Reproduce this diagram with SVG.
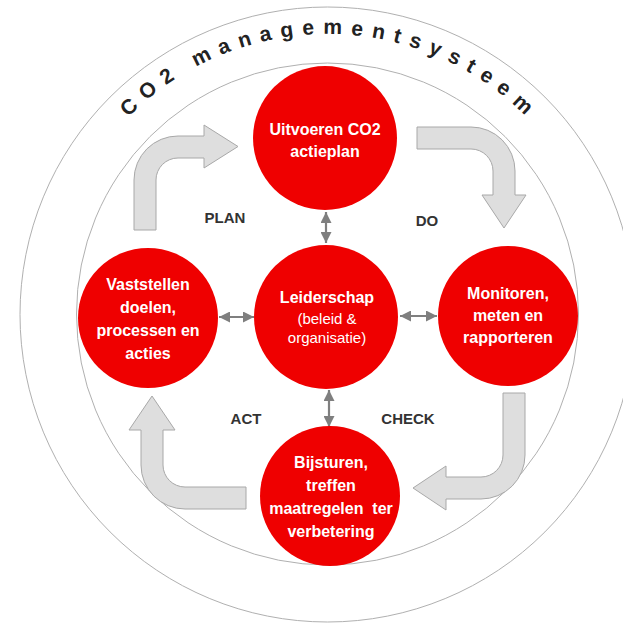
<svg xmlns="http://www.w3.org/2000/svg" width="623" height="623" viewBox="0 0 623 623">
<style>
.ring{fill:none;stroke:#b0b0b0;stroke-width:1}
.node{fill:#ef0000}
.nt{font-family:"Liberation Sans",Arial,sans-serif;font-weight:bold;font-size:16px;fill:#ffffff;text-anchor:middle}
.nr{font-family:"Liberation Sans",Arial,sans-serif;font-weight:normal;font-size:15px;fill:#ffffff;text-anchor:middle}
.lbl{font-family:"Liberation Sans",Arial,sans-serif;font-weight:bold;font-size:15px;fill:#333333;text-anchor:middle}
.arc{font-family:"Liberation Sans",Arial,sans-serif;font-weight:bold;font-size:21px;fill:#222222}
.big{fill:#dedede;stroke:#a8a8a8;stroke-width:1}
.dbl{stroke:#7f7f7f;stroke-width:2.2;fill:none;marker-start:url(#ah);marker-end:url(#ah)}
</style>
<defs>
<marker id="ah" markerUnits="userSpaceOnUse" markerWidth="11" markerHeight="11" refX="10" refY="5" orient="auto-start-reverse" viewBox="0 0 10 10">
<path d="M0,0 L10,5 L0,10 Z" fill="#7f7f7f"/>
</marker>
<path id="arcpath" d="M47.5,314 A280,280 0 0 1 607.5,314"/>
</defs>
<rect width="623" height="623" fill="#ffffff"/>
<g id="rings">
<circle class="ring" cx="327.5" cy="314.5" r="307.5"/>
<circle class="ring" cx="327.5" cy="314" r="251"/>
<text class="arc"><textPath href="#arcpath" startOffset="218"><tspan dx="0 8.9 8.9 8.9 8.9 8.9 8.9 8.9 8.9 8.9 8.9 8.9 8.9 8.9 8.9 8.9 8.9 8.9 8.9 8.9 8.9">CO2 managementsysteem</tspan></textPath></text>
</g>
<g id="connectors">
<path class="big" d="M134,230 V180 A44,44 0 0 1 178,136 H204 V125 L238,146.5 L204,168 V158 H178 A22,22 0 0 0 156,180 V230 Z"/>
<path class="big" d="M417,127 H471 A44,44 0 0 1 515,171 V195 H526 L504,228 L482,195 H493 V171 A22,22 0 0 0 471,149 H417 Z"/>
<path class="big" d="M503,393 H525 V455 A44,44 0 0 1 481,499 H446 V510 L413,488 L446,466 V477 H481 A22,22 0 0 0 503,455 Z"/>
<path class="big" d="M246,509 H185 A44,44 0 0 1 141,465 V430 H129 L152,396 L175,430 H163 V465 A22,22 0 0 0 185,487 H246 Z"/>
<line class="dbl" x1="326" y1="212" x2="326" y2="243"/>
<line class="dbl" x1="219" y1="317" x2="254" y2="317"/>
<line class="dbl" x1="400" y1="316" x2="437" y2="316"/>
<line class="dbl" x1="329" y1="390" x2="329" y2="427"/>
</g>
<g id="labels">
<text class="lbl" x="225" y="223">PLAN</text>
<text class="lbl" x="427" y="226">DO</text>
<text class="lbl" x="246" y="424">ACT</text>
<text class="lbl" x="408" y="424">CHECK</text>
</g>
<g id="node-do">
<circle class="node" cx="325" cy="138" r="72"/>
<text class="nt" x="325" y="135">Uitvoeren CO2</text>
<text class="nt" x="325" y="157">actieplan</text>
</g>
<g id="node-plan">
<circle class="node" cx="148" cy="318" r="70"/>
<text class="nt" x="148" y="290">Vaststellen</text>
<text class="nt" x="148" y="313">doelen,</text>
<text class="nt" x="148" y="336">processen en</text>
<text class="nt" x="148" y="359">acties</text>
</g>
<g id="node-center">
<circle class="node" cx="326" cy="317" r="72"/>
<text class="nt" x="327" y="303">Leiderschap</text>
<text class="nr" x="327" y="324">(beleid &amp;</text>
<text class="nr" x="327" y="343">organisatie)</text>
</g>
<g id="node-check">
<circle class="node" cx="508" cy="316" r="70"/>
<text class="nt" x="508" y="299">Monitoren,</text>
<text class="nt" x="508" y="321">meten en</text>
<text class="nt" x="508" y="343">rapporteren</text>
</g>
<g id="node-act">
<circle class="node" cx="330" cy="496" r="70"/>
<text class="nt" x="331" y="468">Bijsturen,</text>
<text class="nt" x="331" y="491">treffen</text>
<text class="nt" x="331" y="514" xml:space="preserve">maatregelen  ter</text>
<text class="nt" x="331" y="537">verbetering</text>
</g>
</svg>
